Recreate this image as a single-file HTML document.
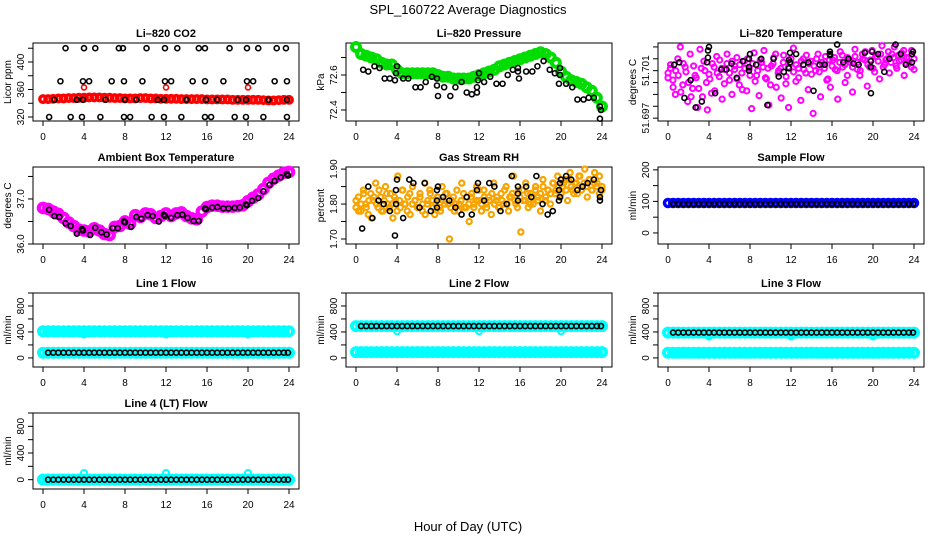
<!DOCTYPE html>
<html><head><meta charset="utf-8">
<style>
html,body{margin:0;padding:0;background:#fff;}
svg{display:block;font-family:"Liberation Sans",sans-serif;}
</style></head>
<body>
<svg id="fig" width="936" height="540" viewBox="0 0 936 540">
<text x="468" y="14" text-anchor="middle" font-size="13">SPL_160722  Average Diagnostics</text>
<text x="468" y="531" text-anchor="middle" font-size="13">Hour of Day (UTC)</text>
</svg>
<script>
// ---------- data ----------
const xTicks = [0,4,8,12,16,20,24];
const halfHours = [0,0.5,1,1.5,2,2.5,3,3.5,4,4.5,5,5.5,6,6.5,7,7.5,8,8.5,9,9.5,10,10.5,11,11.5,12,12.5,13,13.5,14,14.5,15,15.5,16,16.5,17,17.5,18,18.5,19,19.5,20,20.5,21,21.5,22,22.5,23,23.5,24];
const blackHalfHours = [0.5,1,1.5,2,2.5,3,3.5,4,4.5,5,5.5,6,6.5,7,7.5,8,8.5,9,9.5,10,10.5,11,11.5,12,12.5,13,13.5,14,14.5,15,15.5,16,16.5,17,17.5,18,18.5,19,19.5,20,20.5,21,21.5,22,22.5,23,23.5,23.9];

// CO2
const co2BlackX = [2.2,4,5.1,7.4,7.8,10.1,11.9,13.1,15.2,15.8,18.2,19.9,21,22.8,23.7, 1.7,3.9,4.5,6.7,7.9,9.7,11.9,12.5,14.6,15.8,17.6,19.9,20.5,22.6,23.8, 1.1,3.3,3.9,6.1,8,9.1,11.2,11.8,14,15.9,17,19,19.8,22,23.8, 0.6,2.7,3.8,5.6,7.9,8.5,10.6,11.8,13.5,15.8,16.4,18.7,19.8,21.5,23.8];
const co2BlackY = [420,420,420,420,420,420,420,420,420,420,420,420,420,420,420, 372,372,372,372,372,372,372,372,372,372,372,372,372,372,372, 345,345,345,345,345,345,345,345,345,345,345,345,345,345,345, 320,320,320,320,320,320,320,320,320,320,320,320,320,320,320];
const co2Red = [346,346,346.5,347,347,347.5,347.5,348,348,348.5,348.5,348.5,348,348,347.5,347.5,347,347,347,347.5,347.5,347,347,346.5,346.5,346.5,346.5,346,346,346,346,346,345.5,345.5,345.5,345.5,345.5,345,345,345,345,345,345,344.5,344,344,344.5,345,345];
const co2RedOutX = [4,12,20];
const co2RedOutY = [363,363,363];

// Pressure
const presGreen = [72.76,72.72,72.71,72.70,72.69,72.67,72.66,72.66,72.63,72.61,72.61,72.61,72.61,72.61,72.61,72.61,72.60,72.59,72.59,72.58,72.58,72.58,72.58,72.59,72.60,72.61,72.62,72.63,72.65,72.66,72.67,72.68,72.69,72.70,72.71,72.72,72.73,72.72,72.70,72.67,72.62,72.59,72.57,72.56,72.55,72.53,72.51,72.47,72.42];
const presBlackX = [0.7,1.2,1.8,2.3,2.8,3.3,3.8,3.9,4,4.6,5.1,5.8,6.3,6.8,7.4,7.9,7.9,8.0,8.6,9.2,9.7,10.3,10.8,11.3,11.8,11.8,11.9,12,12.5,13.1,13.7,14.3,14.8,15.3,15.8,15.8,15.9,16.6,17.2,17.7,18.3,18.9,19.4,19.8,19.9,19.9,20.5,21.1,21.6,22.2,22.7,23.2,23.8,23.9,23.8];
const presBlackY = [72.63,72.62,72.65,72.64,72.58,72.58,72.57,72.61,72.65,72.58,72.58,72.53,72.53,72.56,72.59,72.58,72.54,72.48,72.53,72.48,72.53,72.56,72.50,72.49,72.50,72.53,72.57,72.61,72.56,72.59,72.55,72.55,72.60,72.63,72.64,72.62,72.58,72.62,72.62,72.65,72.68,72.63,72.61,72.55,72.60,72.64,72.55,72.53,72.46,72.46,72.47,72.47,72.42,72.40,72.35];

// Li-820 temperature
const ltMagenta = [51.7008,51.7012,51.7002,51.6990,51.7020,51.7030,51.6998,51.7013,51.6984,51.7024,51.6995,51.7006,51.6979,51.7028,51.6988,51.7010,51.6977,51.7003,51.7016,51.6993,51.7008,51.7019,51.6986,51.7011,51.7024,51.7002,51.6990,51.7014,51.7021,51.6998,51.7008,51.7018,51.6993,51.7012,51.6978,51.7025,51.7006,51.6989,51.7017,51.7027,51.7003,51.6981,51.7014,51.7021,51.6996,51.7010,51.6987,51.7023,51.7005,51.6979,51.7016,51.7029,51.7001,51.7012,51.6985,51.7020,51.7008,51.6994,51.7018,51.6974,51.7010,51.7024,51.6988,51.7015,51.7022,51.7003,51.6996,51.7019,51.7011,51.6986,51.7026,51.7013,51.7000,51.7021,51.7017,51.6992,51.7028,51.7011,51.7006,51.7024,51.7019,51.6997,51.7013,51.7027,51.7009,51.7022,51.7003,51.7031,51.7015,51.7020,51.7008,51.7024,51.7030,51.7012,51.7018,51.7025,51.7006,51.7021,51.7016,51.7027,51.7011];
const ltMagenta2 = [51.7004,51.7015,51.6996,51.7010,51.7006,51.6992,51.7016,51.7009,51.7000,51.6988,51.7014,51.7004,51.6995,51.7012,51.7018,51.7000,51.7007,51.6991,51.7013,51.7022,51.7005,51.7012,51.6999,51.7016,51.7008,51.7018,51.7011,51.7003,51.7015,51.6994,51.7012,51.7020,51.7006,51.7016,51.7001,51.7010,51.7019,51.7013,51.7004,51.7012,51.6998,51.7016,51.7024,51.7008,51.7012,51.7017,51.6999,51.7013,51.7020,51.7009,51.7015,51.7004,51.7018,51.7011,51.7023,51.7016,51.7007,51.7014,51.7020,51.7009,51.7017,51.7012,51.7002,51.7019,51.7014,51.7021,51.7010,51.7017,51.7023,51.7015,51.7006,51.7019,51.7013,51.7022,51.7017,51.7010,51.7020,51.7026,51.7015,51.7019,51.7012,51.7022,51.7018,51.7024,51.7013,51.7019,51.7026,51.7017,51.7021,51.7014,51.7023,51.7019,51.7027,51.7016,51.7021,51.7013,51.7020];
const ltBlackX = [0.6,1.1,1.6,2.2,2.7,3.3,3.8,3.9,3.9,4,4.6,5.2,5.7,6.2,6.7,7.3,7.9,7.9,7.9,8.0,8.6,9.1,9.7,10.3,10.8,11.3,11.8,11.8,11.9,11.9,12.5,13.2,13.7,14.2,14.8,15.3,15.8,15.8,15.8,16.5,17.1,17.6,18.1,18.6,19.2,19.8,19.8,19.8,19.9,20.5,21.1,21.6,22.2,22.7,23.2,23.8,23.8,23.9];
const ltBlackY = [51.7015,51.7017,51.6987,51.7002,51.6979,51.6984,51.7017,51.7021,51.7027,51.7030,51.6991,51.7011,51.7011,51.7016,51.7004,51.7018,51.7010,51.7013,51.7020,51.7024,51.7015,51.7020,51.6981,51.7020,51.7005,51.7009,51.7012,51.7019,51.7017,51.7025,51.7024,51.7015,51.7017,51.6993,51.7015,51.7015,51.7023,51.7024,51.7026,51.7032,51.7017,51.7020,51.7016,51.7015,51.7025,51.7018,51.7013,51.6991,51.7026,51.7024,51.7009,51.7020,51.7032,51.7024,51.7015,51.7017,51.7024,51.7026];

// Ambient box temperature
const ambMagenta = [36.80,36.78,36.72,36.67,36.58,36.48,36.40,36.32,36.30,36.28,36.35,36.30,36.22,36.20,36.38,36.40,36.50,36.45,36.64,36.60,36.68,36.66,36.58,36.62,36.68,36.62,36.68,36.70,36.62,36.57,36.55,36.72,36.82,36.85,36.85,36.83,36.83,36.83,36.84,36.86,36.95,37.03,37.10,37.22,37.36,37.45,37.52,37.58,37.60];
const ambBlackX = [0.6,1.1,1.6,2.2,2.7,3.3,3.8,3.9,4.6,5.1,5.7,6.2,6.8,7.3,7.9,8.0,8.6,9.1,9.6,10.2,10.7,11.3,11.8,11.9,12.5,13.1,13.6,14.1,14.7,15.2,15.8,15.9,16.5,17.0,17.6,18.1,18.7,19.2,19.8,19.9,20.4,21.0,21.5,22.1,22.6,23.2,23.8,23.9];
const ambBlackY = [36.76,36.62,36.60,36.46,36.40,36.23,36.33,36.30,36.20,36.36,36.26,36.21,36.35,36.35,36.50,36.48,36.38,36.60,36.56,36.64,36.62,36.50,36.65,36.62,36.58,36.64,36.65,36.58,36.51,36.51,36.79,36.77,36.81,36.82,36.79,36.79,36.80,36.81,36.88,36.86,36.96,37.02,37.17,37.31,37.40,37.48,37.55,37.52];

// Gas stream RH
const rhOrange = [1.79,1.82,1.78,1.84,1.80,1.77,1.83,1.81,1.86,1.79,1.82,1.78,1.85,1.80,1.83,1.76,1.81,1.88,1.79,1.84,1.80,1.82,1.77,1.85,1.81,1.79,1.83,1.78,1.86,1.80,1.84,1.81,1.77,1.82,1.79,1.85,1.80,1.83,1.70,1.81,1.78,1.84,1.80,1.86,1.79,1.82,1.75,1.83,1.80,1.85,1.81,1.78,1.84,1.80,1.82,1.77,1.86,1.81,1.79,1.83,1.80,1.85,1.78,1.82,1.88,1.80,1.84,1.72,1.81,1.86,1.79,1.83,1.80,1.85,1.82,1.78,1.87,1.81,1.84,1.80,1.86,1.83,1.88,1.82,1.85,1.87,1.81,1.89,1.84,1.86,1.83,1.88,1.85,1.90,1.82,1.87,1.84,1.89,1.86,1.83,1.85];
const rhOrange2 = [1.81,1.78,1.80,1.83,1.79,1.81,1.76,1.82,1.80,1.84,1.78,1.81,1.83,1.79,1.80,1.82,1.78,1.81,1.84,1.80,1.78,1.83,1.80,1.81,1.79,1.82,1.80,1.77,1.81,1.83,1.79,1.80,1.82,1.78,1.81,1.83,1.80,1.79,1.82,1.80,1.78,1.81,1.83,1.79,1.80,1.82,1.79,1.81,1.84,1.80,1.82,1.79,1.81,1.83,1.80,1.82,1.79,1.81,1.84,1.80,1.82,1.83,1.81,1.79,1.82,1.84,1.81,1.83,1.80,1.82,1.84,1.81,1.83,1.85,1.82,1.84,1.83,1.86,1.84,1.85,1.83,1.86,1.84,1.87,1.85,1.83,1.86,1.88,1.84,1.86,1.85,1.87,1.84,1.86,1.85,1.88,1.84];
const rhBlackX = [0.6,1.2,1.6,2.2,2.7,3.3,3.8,3.9,3.9,4,4.6,5.2,5.6,6.2,6.7,7.3,7.9,7.9,7.9,8,8.5,9.1,9.7,10.3,10.8,11.3,11.8,11.9,12.5,13,13.5,14.1,14.7,15.2,15.8,15.8,15.8,16.6,17.1,17.6,18.2,18.7,19.2,19.8,19.8,19.9,19.9,20,20.5,21,21.6,22.1,22.6,23.2,23.8,23.8,23.9];
const rhBlackY = [1.73,1.85,1.76,1.81,1.80,1.78,1.71,1.80,1.84,1.87,1.76,1.87,1.86,1.79,1.86,1.78,1.79,1.81,1.84,1.85,1.82,1.81,1.79,1.77,1.82,1.77,1.84,1.86,1.81,1.86,1.85,1.78,1.80,1.88,1.81,1.83,1.85,1.85,1.82,1.88,1.80,1.77,1.78,1.81,1.84,1.86,1.82,1.87,1.88,1.87,1.84,1.85,1.86,1.87,1.82,1.81,1.84];

// Flows (levels in ml/min)
const sampleBlue = 95, sampleBlack = 92;
const flowNames   = ["line1","line2","line3","line4"];
const flowCyanHi  = [410, 490, 390, 0];
const flowCyanLo  = [80, 90, 80, 0];
const flowBlack   = [80, 490, 390, 0];
const flowDipHours = [4,12,20];
const flowDipVals  = [[360,360,360],[410,410,410],[330,330,330],[100,100,100]];

// ---------- drawing ----------
const NS = "http://www.w3.org/2000/svg";
const svg = document.getElementById("fig");
const colLeft = [33,346,658];
const rowTop = [43,167,293,413];
const rowBot = [121,244,367,489];
const BOXW = 266;

function mk(tag, attrs, parent){
  const e = document.createElementNS(NS, tag);
  for (const k in attrs) e.setAttribute(k, attrs[k]);
  (parent||svg).appendChild(e);
  return e;
}

function panel(col,row,title,ylab,ylim,yTicks,yLabels,name){
  const g = mk("g",{});
  
  
  const L = colLeft[col], T = rowTop[row], B = rowBot[row], R = L+BOXW;
  const sx = h => L + 10 + h/24*246;
  const sy = v => B - (v - ylim[0])/(ylim[1]-ylim[0])*(B-T);
  const box = mk("rect",{x:L,y:T,width:BOXW,height:B-T,fill:"none",stroke:"#000","stroke-width":1},g);
  
  
  const t = mk("text",{x:(L+R)/2,y:T-6,"text-anchor":"middle","font-size":11,"font-weight":"bold"},g);
  t.textContent = title;
  
  
  const xa = mk("g",{},g);
  
  
  mk("line",{x1:sx(0),x2:sx(24),y1:B,y2:B,stroke:"#000"},xa);
  xTicks.forEach(h=>{
    mk("line",{x1:sx(h),x2:sx(h),y1:B,y2:B+5,stroke:"#000"},xa);
    const tl = mk("text",{x:sx(h),y:B+19,"text-anchor":"middle","font-size":10},xa);
    tl.textContent = h;
    
    
  });
  const ya = mk("g",{},g);
  
  
  mk("line",{x1:L,x2:L,y1:sy(yTicks[0]),y2:sy(yTicks[yTicks.length-1]),stroke:"#000"},ya);
  yTicks.forEach(v=>{ mk("line",{x1:L-5,x2:L,y1:sy(v),y2:sy(v),stroke:"#000"},ya); });
  yLabels.forEach(v=>{
    const yy = sy(parseFloat(v));
    const tl = mk("text",{x:L-9,y:yy,"text-anchor":"middle","font-size":10,transform:`rotate(-90 ${L-9} ${yy})`},ya);
    tl.textContent = v;
    
    
  });
  const yt = mk("text",{x:L-22,y:(T+B)/2,"text-anchor":"middle","font-size":10,transform:`rotate(-90 ${L-22} ${(T+B)/2})`},ya);
  yt.textContent = ylab;
  
  
  const clipG = mk("g",{},g);
  return {g:clipG,sx,sy};
}

function pts(p, xs, ys, color, r, sw, nm){
  const g = mk("g",{},p.g);
  
  
  for (let i=0;i<xs.length;i++){
    const c = mk("circle",{cx:p.sx(xs[i]),cy:p.sy(ys[i]),r:r,fill:"none",stroke:color,"stroke-width":sw},g);
    
    
  }
}
function evenHours(n){ const a=[]; for(let i=0;i<n;i++) a.push(i*24/(n-1)); return a; }
function constArr(hours, v){ return hours.map(()=>v); }

// CO2
let p = panel(0,0,"Li\u2013820 CO2","Licor ppm",[314.2,427.6],[320,340,360,380,400,420],["320","360","400"],"co2");
pts(p, halfHours, co2Red, "#ff0000", 3.2, 3.5, "co2-red-series");
pts(p, co2RedOutX, co2RedOutY, "#ff0000", 2.5, 1.6, "co2-red-outliers");
pts(p, co2BlackX, co2BlackY, "#000", 2.5, 1.6, "co2-black-series");

// Pressure
p = panel(1,0,"Li\u2013820 Pressure","kPa",[72.337,72.783],[72.4,72.5,72.6,72.7],["72.4","72.6"],"pressure");
pts(p, halfHours, presGreen, "#00dd00", 4, 4, "pressure-green-series");
pts(p, presBlackX, presBlackY, "#000", 2.5, 1.6, "pressure-black-series");

// Li-820 temperature
p = panel(2,0,"Li\u2013820 Temperature","degrees C",[51.69676,51.70333],[51.697,51.698,51.699,51.700,51.701,51.702,51.703],["51.697","51.701"],"licor-temp");
pts(p, evenHours(ltMagenta.length), ltMagenta, "#ff00ff", 2.6, 2, "licor-temp-magenta-series");
pts(p, evenHours(ltMagenta2.length), ltMagenta2, "#ff00ff", 2.6, 2, "licor-temp-magenta-series-2");
pts(p, ltBlackX, ltBlackY, "#000", 2.5, 1.6, "licor-temp-black-series");

// Ambient
p = panel(0,1,"Ambient Box Temperature","degrees C",[36.0,37.71],[36.0,36.5,37.0,37.5],["36.0","37.0"],"ambient-temp");
pts(p, halfHours, ambMagenta, "#ff00ff", 4.2, 4.2, "ambient-magenta-series");
pts(p, ambBlackX, ambBlackY, "#000", 2.5, 1.6, "ambient-black-series");

// RH
p = panel(1,1,"Gas Stream RH","percent",[1.6857,1.906],[1.70,1.75,1.80,1.85,1.90],["1.70","1.80","1.90"],"gas-rh");
pts(p, evenHours(rhOrange.length), rhOrange, "#f8a400", 2.6, 2.2, "rh-orange-series");
pts(p, evenHours(rhOrange2.length), rhOrange2, "#f8a400", 2.6, 2.2, "rh-orange-series-2");
pts(p, rhBlackX, rhBlackY, "#000", 2.5, 1.6, "rh-black-series");

// Sample flow
p = panel(2,1,"Sample Flow","ml/min",[-35,209],[0,50,100,150,200],["0","100","200"],"sample-flow");
pts(p, halfHours, constArr(halfHours,sampleBlue), "#0000ff", 3.5, 3.5, "sample-flow-blue-series");
pts(p, blackHalfHours, constArr(blackHalfHours,sampleBlack), "#000", 2.5, 1.6, "sample-flow-black-series");

// Line flows
const flowTitles = ["Line 1 Flow","Line 2 Flow","Line 3 Flow","Line 4 (LT) Flow"];
const flowPos = [[0,2],[1,2],[2,2],[0,3]];
for (let k=0;k<4;k++){
  p = panel(flowPos[k][0],flowPos[k][1],flowTitles[k],"ml/min",[-140,1000],[0,200,400,600,800,1000],["0","400","800"],flowNames[k]);
  pts(p, halfHours, constArr(halfHours,flowCyanLo[k]), "#00ffff", 4, 4, flowNames[k]+"-cyan-low");
  pts(p, halfHours, constArr(halfHours,flowCyanHi[k]), "#00ffff", 4, 4, flowNames[k]+"-cyan-high");
  pts(p, flowDipHours, flowDipVals[k], "#00ffff", 3, 2, flowNames[k]+"-cyan-dips");
  pts(p, blackHalfHours, constArr(blackHalfHours,flowBlack[k]), "#000", 2.5, 1.6, flowNames[k]+"-black-series");
}
</script>
</body></html>
